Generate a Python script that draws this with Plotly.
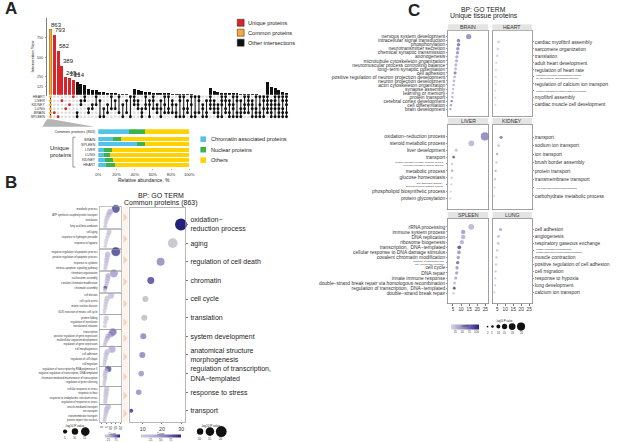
import plotly.graph_objects as go

W, H = 617, 442
FONT = "Arial, Liberation Sans, Helvetica, sans-serif"

# ================= DATA =================
# ---- Panel A : UpSet ----
tissues = ["HEART", "LIVER", "KIDNEY", "LUNG", "BRAIN", "SPLEEN"]
tissue_codes = ["H", "L", "K", "U", "B", "S"]
intersections = [
    "HLKUBS",
    "B", "S", "L", "U", "K", "H",
    "BS", "LK", "HL", "UB", "KU", "HK", "LS", "US", "BK", "HU", "LU", "HB", "KS", "LB", "HS",
    "HLK", "LKU", "BSU", "HKU", "LKS", "HLU", "KUB", "LUS", "HKB", "HUB",
    "LKB", "KBS", "HLS", "HUS", "LUB", "HKS", "HBS", "HLB", "KUS", "LBS",
    "HLKU", "LKUB", "KUBS", "HLKS", "HLUB", "LKBS", "HKUS", "HLBS", "LUBS", "HKUB",
    "HLKB", "LKUS", "HUBS", "HKBS", "HLUS",
    "HLKUB", "LKUBS", "HLKUS", "HKUBS", "HLUBS", "HLKBS",
]
intersection_sizes = [
    863,
    793, 582, 389, 243, 234, 214,
    177, 160, 140, 92, 83, 75, 58, 50, 45, 40, 36, 32, 28, 24, 20,
    92, 75, 62, 55, 50, 46, 42, 40, 38, 36, 34, 31, 29, 27, 25, 23, 21, 19, 17, 15,
    105, 62, 49, 45, 42, 40, 38, 36, 34, 31, 29, 26, 23, 20, 17,
    182, 118, 105, 85, 60, 45,
]
upset_yticks = [125, 250, 500, 750]

# ---- Panel A : relative abundance ----
abund_names = ["Chromatin associated proteins", "Nuclear proteins", "Others"]
abund_colors = ["#52C4E9", "#3CB44B", "#FFD200"]
common_label = ["Common proteins (863)"]
common_chromatin = [33.6]
common_nuclear = [18.0]
common_others = [48.4]
unique_rows = ["BRAIN", "SPLEEN", "LIVER", "LUNG", "KIDNEY", "HEART"]
unique_chromatin = [16.2, 42.2, 6.5, 6.1, 7.9, 9.0]
unique_nuclear = [8.3, 9.1, 9.0, 7.3, 8.0, 9.4]
unique_others = [75.5, 48.7, 84.5, 86.6, 84.1, 81.6]
pct_ticks = [0, 20, 40, 60, 80, 100]

# ---- Panel B : main bubble plot ----
b_terms = ["oxidation−<br>reduction process", "aging", "regulation of cell death", "chromatin",
           "cell cycle", "translation", "system development",
           "anatomical structure<br>morphogenesis", "regulation of transcription,<br>DNA−templated",
           "response to stress", "transport"]
b_x = [29.9, 25.6, 19.3, 14.2, 11.4, 10.8, 10.3, 9.8, 9.2, 7.9, 4.0]
b_count = [100, 5, 45, 72, 8, 7, 46, 47, 38, 42, 80]
b_logp = [22, 17, 13, 11, 9, 9, 9, 9, 8, 8, 4.5]

# ---- Panel B : small sub-term panels ----
sub_terms = [
    ["metabolic process", "tricarboxylic acid cycle", "ATP synthesis coupled proton transport",
     "mitochondrial electron transport", "translation", "aerobic respiration", "fatty acid beta-oxidation"],
    ["cell aging", "response to oxidative stress", "response to hydrogen peroxide",
     "cellular oxidant detoxification", "response to hypoxia", "negative regulation of cell death"],
    ["negative regulation of apoptotic process", "apoptotic process", "positive regulation of apoptotic process",
     "negative regulation of neuron death", "response to cytokine", "regulation of apoptotic signaling",
     "intrinsic apoptotic signaling pathway"],
    ["chromatin organization", "chromatin remodeling", "nucleosome assembly", "histone modification",
     "covalent chromatin modification", "DNA packaging", "chromatin assembly", "protein-DNA complex assembly"],
    ["cell division", "mitotic cell cycle", "cell cycle arrest", "regulation of cell cycle",
     "mitotic nuclear division", "cell proliferation", "G1/S transition of mitotic cell cycle"],
    ["protein folding", "regulation of translation", "translational initiation"],
    ["transcription", "nervous system development", "positive regulation of gene expression",
     "cell differentiation", "multicellular organism development", "neuron differentiation",
     "regulation of gene expression"],
    ["cell morphogenesis", "actin cytoskeleton organization", "cell adhesion", "tissue morphogenesis",
     "regulation of cell shape", "embryonic morphogenesis", "cell migration"],
    ["regulation of transcription by RNA polymerase II", "positive regulation of transcription, DNA-templated",
     "negative regulation of transcription, DNA-templated", "regulation of RNA metabolic process",
     "chromatin-mediated maintenance of transcription", "positive regulation of gene expression",
     "regulation of gene silencing", "RNA splicing"],
    ["cellular response to stress", "response to unfolded protein", "response to heat",
     "cellular response to DNA damage stimulus", "response to endoplasmic reticulum stress",
     "protein refolding", "regulation of response to stress"],
    ["vesicle-mediated transport", "protein transport", "ion transport", "intracellular protein transport",
     "transmembrane transport", "endoplasmic reticulum to Golgi vesicle-mediated transport",
     "protein import into nucleus"],
]
sub_x = [
    [15, 9, 7.5, 6, 5, 4.5, 4],
    [8, 7, 6, 5, 4.5, 4],
    [15, 6.5, 6, 5.5, 5, 4.5, 4],
    [13, 7, 6.5, 6, 5.5, 5, 4, 3.5],
    [10, 6, 5, 4.5, 4, 3.5, 3],
    [5, 4, 3.5],
    [12, 10, 7, 6, 5, 4, 3.5],
    [11, 6, 5, 4.5, 4, 3.5, 3],
    [7, 4.5, 4, 3.5, 4, 3.5, 3, 3],
    [5.5, 5, 5, 4.5, 4.5, 4, 4],
    [7, 5.5, 5, 4.5, 4, 3.5, 3],
]
sub_count = [
    [98, 40, 35, 30, 25, 20, 18],
    [25, 20, 15, 12, 10, 8],
    [100, 35, 30, 28, 25, 22, 20],
    [55, 40, 35, 30, 30, 25, 95, 20],
    [30, 22, 20, 18, 15, 12, 10],
    [18, 15, 12],
    [80, 60, 45, 40, 30, 25, 20],
    [45, 30, 25, 22, 20, 18, 15],
    [95, 30, 25, 30, 25, 20, 18, 15],
    [25, 20, 20, 18, 15, 15, 12],
    [35, 30, 25, 22, 20, 18, 15],
]
sub_logp = [
    [14, 9, 8, 7, 6, 5, 5],
    [7, 6, 5, 5, 4, 4],
    [16, 8, 7, 7, 6, 6, 5],
    [14, 8, 7, 7, 6, 6, 5, 5],
    [10, 8, 7, 6, 6, 5, 5],
    [8, 6, 5],
    [12, 10, 8, 7, 6, 5, 5],
    [12, 8, 7, 6, 6, 5, 5],
    [10, 7, 6, 6, 6, 5, 5, 4],
    [8, 7, 7, 7, 6, 6, 6],
    [9, 8, 7, 6, 6, 5, 5],
]
sub_xticks = [0, 5, 10, 15, 20]
b_main_xticks = [10, 20, 30]
b_size_legend_left = [5, 10, 15]
b_size_legend_right = [10, 15, 20]

# ---- Panel C : unique tissue proteins ----
brain_terms = ["nervous system development", "intracellular signal transduction", "phosphorylation",
               "neurotransmitter secretion", "chemical synaptic transmission", "axonogenesis",
               "microtubule cytoskeleton organization", "neuromuscular process controlling balance",
               "long−term synaptic potentiation", "cell adhesion",
               "positive regulation of neuron projection development", "neuron projection development",
               "actin cytoskeleton organization", "synapse assembly", "learning or memory",
               "protein transport", "cerebral cortex development", "cell differentiation", "brain development"]
brain_x = [14.7, 8.4, 8.4, 8.0, 7.8, 7.4, 7.2, 6.8, 6.6, 6.3, 6.0, 5.6, 5.4, 5.0, 4.8, 4.6, 4.2, 3.8, 3.4]
brain_count = [70, 78, 80, 72, 66, 55, 50, 45, 40, 82, 40, 45, 40, 35, 35, 45, 88, 72, 60]

heart_terms = ["cardiac myofibril assembly", "sarcomere organization", "translation",
               "adult heart development", "regulation of heart rate",
               "regulation of release of sequestered calcium<br>ion into cytosol by sarcoplasmic reticulum",
               "regulation of calcium ion transport",
               "negative regulation of cardiac muscle hypertrophy",
               "myofibril assembly", "cardiac muscle cell development"]
heart_x = [5.8, 5.4, 5.0, 4.4, 4.2, 4.0, 4.0, 3.8, 3.8, 3.8]
heart_count = [22, 20, 18, 15, 14, 13, 13, 12, 12, 12]

liver_terms = ["oxidation−reduction process", "steroid metabolic process", "liver development", "transport",
               "negative regulation of insulin secretion involved<br>in cellular response to glucose stimulus",
               "metabolic process", "glucose homeostasis",
               "ER−associated ubiquitin−<br>dependent protein catabolic process",
               "phospholipid biosynthetic process", "protein glycosylation"]
liver_x = [24.7, 16.4, 7.0, 5.4, 4.5, 4.5, 4.2, 4.0, 3.6, 3.4]
liver_count = [75, 42, 30, 105, 25, 52, 25, 20, 20, 20]

kidney_terms = ["transport", "sodium ion transport", "ion transport", "brush border assembly",
                "protein transport", "transmembrane transport", "ATP hydrolysis coupled proton transport",
                "carbohydrate metabolic process"]
kidney_x = [7.4, 5.8, 4.9, 4.5, 4.0, 3.6, 3.4, 3.0]
kidney_count = [78, 30, 50, 25, 48, 35, 15, 15]

spleen_terms = ["rRNA processing", "immune system process", "DNA replication", "ribosome biogenesis",
                "transcription,  DNA−templated", "cellular response to DNA damage stimulus",
                "covalent chromatin modification",
                "regulation of transcription from<br>RNA polymerase II promoter",
                "cell cycle", "DNA repair", "innate immune response",
                "double−strand break repair via homologous recombination",
                "regulation of transcription,  DNA−templated", "double−strand break repair"]
spleen_x = [16.3, 11.3, 11.3, 10.5, 8.9, 8.7, 8.3, 7.9, 7.5, 7.3, 6.7, 6.0, 5.8, 5.4]
spleen_count = [42, 62, 48, 46, 108, 68, 62, 88, 66, 60, 55, 40, 110, 25]

lung_terms = ["cell adhesion", "angiogenesis", "respiratory gaseous exchange",
              "negative regulation of transforming<br>growth factor beta receptor signaling pathway",
              "muscle contraction", "positive regulation of cell adhesion", "cell migration",
              "response to hypoxia", "lung development", "calcium ion transport"]
lung_x = [7.1, 5.8, 5.6, 5.0, 4.5, 4.3, 4.0, 3.8, 3.6, 3.2]
lung_count = [50, 40, 35, 30, 30, 25, 30, 25, 25, 25]

tiny_terms = {heart_terms[5], heart_terms[7], liver_terms[4], liver_terms[7], kidney_terms[6],
              spleen_terms[7], lung_terms[3]}
c_xticks = [5, 10, 15, 20, 25]
c_count_ticks = [25, 50, 75, 100]
c_size_legend = [2, 5, 10, 15, 20, 25]

# ================= HELPERS =================
def fx(px):
    return px / W

def fy(py):
    return 1 - py / H

def xdom(a, b):
    return [a / W, b / W]

def ydom(top, bot):
    return [1 - bot / H, 1 - top / H]

fig = go.Figure()
axes_layout = {}
shapes = []
annotations = []
n_axes = [0]

def add_axes(xd, yd, xkw=None, ykw=None):
    n_axes[0] += 1
    k = n_axes[0]
    s = "" if k == 1 else str(k)
    xa = dict(domain=xd, anchor="y" + s, showgrid=False, zeroline=False, fixedrange=True)
    ya = dict(domain=yd, anchor="x" + s, showgrid=False, zeroline=False, fixedrange=True)
    if xkw:
        xa.update(xkw)
    if ykw:
        ya.update(ykw)
    axes_layout["xaxis" + s] = xa
    axes_layout["yaxis" + s] = ya
    return "x" + s, "y" + s

def text(px, py, s, size, xanchor="center", yanchor="middle", color="#222", angle=0):
    annotations.append(dict(x=fx(px), y=fy(py), xref="paper", yref="paper", text=s, showarrow=False,
                            font=dict(size=size, color=color, family=FONT), xanchor=xanchor,
                            yanchor=yanchor, textangle=angle, borderpad=0))

def rect(x0, y0, x1, y1, fill, line="rgba(0,0,0,0)", lw=0, layer="above"):
    shapes.append(dict(type="rect", xref="paper", yref="paper", x0=fx(x0), x1=fx(x1), y0=fy(y1), y1=fy(y0),
                       fillcolor=fill, line=dict(color=line, width=lw), layer=layer))

def circle(cx, cy, d, fill="#111"):
    shapes.append(dict(type="circle", xref="paper", yref="paper", x0=fx(cx - d / 2), x1=fx(cx + d / 2),
                       y0=fy(cy + d / 2), y1=fy(cy - d / 2), fillcolor=fill, line=dict(width=0)))

def path(pts, fill, line="rgba(0,0,0,0)", lw=0, closed=True):
    d = "M " + " L ".join(f"{fx(x):.5f},{fy(y):.5f}" for x, y in pts) + (" Z" if closed else "")
    shapes.append(dict(type="path", xref="paper", yref="paper", path=d, fillcolor=fill,
                       line=dict(color=line, width=lw), layer="above"))

# ================= PANEL A : UpSet =================
text(1, 9, "<b>A</b>", 17, xanchor="left")
up_range = [-0.956, 62.6]
cols = list(range(len(intersections)))
deg = [len(s) for s in intersections]
col_colors = ["#F4A93B" if d == 6 else "#D9252A" if d == 1 else "#111111" for d in deg]
bar_edges = ["#8A5A10" if d == 6 else "rgba(0,0,0,0)" for d in deg]

xa, ya = add_axes(xdom(44.5, 290), ydom(18, 96.5),
                  dict(range=up_range, visible=False),
                  dict(range=[0, 1006], tickvals=upset_yticks, ticks="outside", ticklen=1.5, tickwidth=0.5,
                       tickcolor="#444", tickfont=dict(size=3.6, color="#333"), showline=True,
                       linecolor="#444", linewidth=0.7, ticklabelstandoff=1))
fig.add_trace(go.Bar(x=cols, y=intersection_sizes, xaxis=xa, yaxis=ya,
                     marker=dict(color=col_colors, line=dict(width=0.4, color=bar_edges)), width=0.78,
                     cliponaxis=False, hoverinfo="skip"))
for c, v in zip(cols, intersection_sizes):
    if deg[c] in (1, 6):
        annotations.append(dict(x=c - 0.35, y=v, xref=xa, yref=ya, text=str(v), showarrow=False,
                                xanchor="left", yanchor="bottom", yshift=-0.5,
                                font=dict(size=6, color="#222", family=FONT)))
text(30, 57, "Intersection Size", 4.3, angle=-90)

# matrix
xm, ym = add_axes(xdom(44.5, 290), ydom(95, 119),
                  dict(range=up_range, visible=False),
                  dict(range=[5.5, -0.5], tickvals=list(range(6)), ticktext=tissues, ticks="",
                       tickfont=dict(size=3.6, color="#333"), showline=False, ticklabelstandoff=1))
for r in (1, 3, 5):
    rect(44.5, 95 + 4 * r, 290, 99 + 4 * r, "#F1F1F1", layer="below")
bg_x, bg_y, mem_x, mem_y, mem_c, ln_x, ln_y = [], [], [], [], [], [], []
for c, members in zip(cols, intersections):
    rows = [tissue_codes.index(ch) for ch in members]
    for r in range(6):
        if r in rows:
            mem_x.append(c); mem_y.append(r); mem_c.append(col_colors[c])
        else:
            bg_x.append(c); bg_y.append(r)
    if len(rows) > 1:
        ln_x += [c, c, None]; ln_y += [min(rows), max(rows), None]
fig.add_trace(go.Scatter(x=bg_x, y=bg_y, xaxis=xm, yaxis=ym, mode="markers",
                         marker=dict(size=2.6, color="#DCDCDC"), hoverinfo="skip", cliponaxis=False))
fig.add_trace(go.Scatter(x=ln_x, y=ln_y, xaxis=xm, yaxis=ym, mode="lines",
                         line=dict(color="#111", width=1), hoverinfo="skip"))
fig.add_trace(go.Scatter(x=mem_x, y=mem_y, xaxis=xm, yaxis=ym, mode="markers",
                         marker=dict(size=2.9, color=mem_c, line=dict(width=0)), hoverinfo="skip",
                         cliponaxis=False))

# upset legend
for i, (lab, colr) in enumerate([("Unique proteins", "#D9252A"), ("Common proteins", "#F4A93B"),
                                  ("Other intersections", "#111111")]):
    rect(237.7, 19.3 + 10 * i, 244.7, 26.3 + 10 * i, colr, "#222", 0.5)
    text(248, 22.8 + 10 * i, lab, 5.6, xanchor="left")

# funnel shape to common bar
path([(44.5, 119.5), (49.5, 119.5), (93, 127), (40, 127)], "#B5B5B5")

# ================= PANEL A : stacked abundance =================
xs, ys = add_axes(xdom(96.7, 189), ydom(137, 168),
                  dict(range=[0, 100], tickvals=pct_ticks, ticktext=[f"{t}%" for t in pct_ticks],
                       ticks="outside", ticklen=1.5, tickwidth=0.5, tickcolor="#666",
                       tickfont=dict(size=4.2, color="#333"), showline=False, ticklabelstandoff=1),
                  dict(type="category", categoryarray=unique_rows, range=[5.5, -0.5], ticks="",
                       tickfont=dict(size=3.6, color="#333"), ticklabelstandoff=2))
xc, yc = add_axes(xdom(96.7, 189), ydom(129.5, 134.2),
                  dict(range=[0, 100], visible=False),
                  dict(type="category", categoryarray=common_label, range=[0.5, -0.5], ticks="",
                       tickfont=dict(size=3.9, color="#333"), ticklabelstandoff=2))
for name, colr, cv, uv in zip(abund_names, abund_colors,
                              [common_chromatin, common_nuclear, common_others],
                              [unique_chromatin, unique_nuclear, unique_others]):
    fig.add_trace(go.Bar(x=cv, y=common_label, orientation="h", xaxis=xc, yaxis=yc, width=0.95,
                         marker=dict(color=colr, line=dict(width=0)), hoverinfo="skip"))
    fig.add_trace(go.Bar(x=uv, y=unique_rows, orientation="h", xaxis=xs, yaxis=ys, width=0.78,
                         marker=dict(color=colr, line=dict(width=0)), hoverinfo="skip"))
text(142.8, 180, "Relative abundance, %", 5)
path([(73.5, 137.5), (71, 137.5), (71, 167.5), (73.5, 167.5)], "rgba(0,0,0,0)", "#555", 0.6, closed=False)
text(58, 148, "Unique", 6)
text(58, 155, "proteins", 6)
for i, (lab, colr) in enumerate(zip(abund_names, abund_colors)):
    rect(200.3, 136.7 + 10.5 * i, 206, 142.3 + 10.5 * i, colr)
    text(210, 139.5 + 10.5 * i, lab, 5.6, xanchor="left")

# ================= PANEL B =================
text(1.5, 183, "<b>B</b>", 17, xanchor="left")
text(160, 196, "BP: GO TERM", 7)
text(160, 203.2, "Common proteins (863)", 7)

CS_B = [[0, "#CDCDCD"], [0.3, "#B9B3D6"], [0.6, "#8C7FBE"], [0.8, "#5E4BA4"], [1, "#25217A"]]
CS_C = [[0, "#D6D3E5"], [0.5, "#8E82BF"], [0.85, "#4A3A9B"], [1, "#2A1E7E"]]

def bsize(v):
    return 2 + 0.45 * v

xb, yb = add_axes(xdom(128.3, 185), ydom(208, 423),
                  dict(range=[3.08, 32.15], tickvals=b_main_xticks, ticks="outside", ticklen=1.5,
                       tickcolor="#777", tickfont=dict(size=5.2, color="#333"), showline=True, mirror=True,
                       linecolor="#9A9A9A", linewidth=0.7, ticklabelstandoff=1),
                  dict(type="category", categoryarray=b_terms, range=[10.6, -0.91], side="right",
                       ticks="outside", ticklen=2, tickcolor="#777", tickfont=dict(size=7, color="#1E1E1E"),
                       showline=True, mirror=True, linecolor="#9A9A9A", linewidth=0.7,
                       ticklabelstandoff=1))
fig.add_trace(go.Scatter(x=b_x, y=b_terms, xaxis=xb, yaxis=yb, mode="markers",
                         marker=dict(size=[bsize(v) for v in b_logp], color=b_count, coloraxis="coloraxis3",
                                     line=dict(width=0), opacity=1), hoverinfo="skip", cliponaxis=False))

sub_boxes = [(207, 229), (230, 249), (250, 271), (272, 293), (294, 315), (316, 330), (331, 347),
             (348, 367), (368, 387), (388, 405), (406, 423)]
rect(121, 207, 127, 423, "#FBF3EC", layer="below")
for gi, (top, bot) in enumerate(sub_boxes):
    terms = sub_terms[gi]
    n = len(terms)
    last = gi == len(sub_boxes) - 1
    xa_s, ya_s = add_axes(xdom(98, 120), ydom(top, bot),
                          dict(range=[-2, 20.7], tickvals=sub_xticks if last else [],
                               showticklabels=last, ticks="outside" if last else "", ticklen=1,
                               tickcolor="#777", tickfont=dict(size=3.3, color="#333"), showline=True,
                               mirror=True, linecolor="#9A9A9A", linewidth=0.6, ticklabelstandoff=0),
                          dict(type="category", categoryarray=terms, range=[n - 0.2, -0.8], ticks="",
                               tickfont=dict(size=2.6, color="#333"), showline=True, mirror=True,
                               linecolor="#9A9A9A", linewidth=0.6, ticklabelstandoff=1))
    fig.add_trace(go.Scatter(x=sub_x[gi], y=terms, xaxis=xa_s, yaxis=ya_s, mode="markers",
                             marker=dict(size=[bsize(v) for v in sub_logp[gi]], color=sub_count[gi],
                                         coloraxis="coloraxis2", line=dict(width=0.3, color="#FFFFFF")),
                             hoverinfo="skip", cliponaxis=False))
    cy = (top + bot) / 2
    path([(122.3, cy - 4), (126.3, cy), (122.3, cy + 4)], "#F3D3BD")

# B legends
text(73, 426.7, "-log10 P value", 3)
for cx, v in zip([63, 73, 83.5], b_size_legend_left):
    circle(cx, 432.5, bsize(v))
    text(cx, 439, str(v), 2.8)
text(211, 426.7, "-log10 P value", 3)
for cx, v in zip([200, 210, 221.5], b_size_legend_right):
    circle(cx, 432.5, bsize(v))
    text(cx, 439.5, str(v), 2.8)

# ================= PANEL C =================
text(417, 11, "<b>C</b>", 17)
text(488, 9.5, "BP: GO TERM", 6.8)
text(488, 16.3, "Unique tissue proteins", 6.8)

def csize(v):
    return 1.2 + 0.28 * v

def facet(name, terms, xvals, counts, x0, x1, top, bot, yrange, side, strip_top, show_x):
    xa_f, ya_f = add_axes(xdom(x0, x1), ydom(top, bot),
                          dict(range=[2, 26.7], tickvals=c_xticks if show_x else [], showticklabels=show_x,
                               ticks="outside" if show_x else "", ticklen=1.5, tickcolor="#777",
                               tickfont=dict(size=4.7, color="#333"), showline=True, mirror=True,
                               linecolor="#7A7A7A", linewidth=0.7, ticklabelstandoff=0),
                          dict(type="category", categoryarray=terms, range=yrange, side=side,
                               tickmode="array", tickvals=terms,
                               ticktext=["" if t in tiny_terms else t for t in terms],
                               ticks="outside", ticklen=1.2, tickcolor="#999",
                               tickfont=dict(size=4.9, color="#333"), showline=True, mirror=True,
                               linecolor="#7A7A7A", linewidth=0.7, ticklabelstandoff=0))
    fig.add_trace(go.Scatter(x=xvals, y=terms, xaxis=xa_f, yaxis=ya_f, mode="markers",
                             marker=dict(size=[csize(v) for v in xvals], color=counts, coloraxis="coloraxis",
                                         line=dict(width=0)), hoverinfo="skip", cliponaxis=False))
    for t in terms:
        if t in tiny_terms:
            annotations.append(dict(x=0 if side == "left" else 1, y=t, xref=xa_f + " domain", yref=ya_f,
                                    text=t, showarrow=False, align="right" if side == "left" else "left",
                                    xanchor="right" if side == "left" else "left", yanchor="middle",
                                    xshift=-2 if side == "left" else 2,
                                    font=dict(size=2.3, color="#333", family=FONT)))
    rect(x0, strip_top, x1, strip_top + 6, "#E4E4E4")
    text((x0 + x1) / 2, strip_top + 3.1, name, 5.2, color="#333")

LX0, LX1, RX0, RX1 = 451.7, 492.3, 496.7, 536.7
facet("BRAIN", brain_terms, brain_x, brain_count, LX0, LX1, 31, 116.7, [19.8, -1.41], "left", 24.3, False)
facet("HEART", heart_terms, heart_x, heart_count, RX0, RX1, 31, 116.7, [10.67, -1.57], "right", 24.3, False)
facet("LIVER", liver_terms, liver_x, liver_count, LX0, LX1, 125, 210, [10.62, -1.70], "left", 118.3, False)
facet("KIDNEY", kidney_terms, kidney_x, kidney_count, RX0, RX1, 125, 210, [8.62, -1.50], "right", 118.3, False)
facet("SPLEEN", spleen_terms, spleen_x, spleen_count, LX0, LX1, 219, 304.3, [15.0, -1.62], "left", 212.6, True)
facet("LUNG", lung_terms, lung_x, lung_count, RX0, RX1, 219, 304.3, [10.61, -1.57], "right", 212.6, True)

for cx, v in zip([491.7, 496.7, 502.7, 509, 516.7, 525.7], c_size_legend):
    circle(cx, 327.3, csize(v))
    text(cx, 333.5, str(v), 2.6)
text(509, 321.5, "-log10 P value", 2.6)

# ================= COLOR AXES =================
def cbar(cx, cy, length, thick, ticks, title):
    return dict(orientation="h", x=fx(cx), xanchor="center", y=fy(cy), yanchor="middle",
                len=length, lenmode="pixels", thickness=thick, outlinewidth=0, xpad=0, ypad=0,
                tickvals=ticks, ticks="", tickfont=dict(size=2.8, color="#333"),
                title=dict(text=title, side="top", font=dict(size=2.8, color="#333")))

fig.update_layout(
    width=W, height=H, autosize=False,
    margin=dict(l=0, r=0, t=0, b=0, pad=0),
    paper_bgcolor="white", plot_bgcolor="white",
    showlegend=False, barmode="stack", bargap=0,
    font=dict(family=FONT, color="#222"),
    shapes=shapes, annotations=annotations,
    coloraxis=dict(colorscale=CS_C, cmin=10, cmax=110,
                   colorbar=cbar(469, 328, 28, 5, c_count_ticks, "count")),
    coloraxis2=dict(colorscale=CS_B, cmin=0, cmax=100,
                    colorbar=cbar(110.8, 437, 15, 3, [25, 75], "Count")),
    coloraxis3=dict(colorscale=CS_B, cmin=0, cmax=100,
                    colorbar=cbar(160, 437, 40, 3, [25, 50, 75], "Count")),
    **axes_layout,
)

fig.write_html("out.html", config={"displayModeBar": False, "staticPlot": True},
               post_script="document.body.style.margin='0';document.body.style.overflow='hidden';")
